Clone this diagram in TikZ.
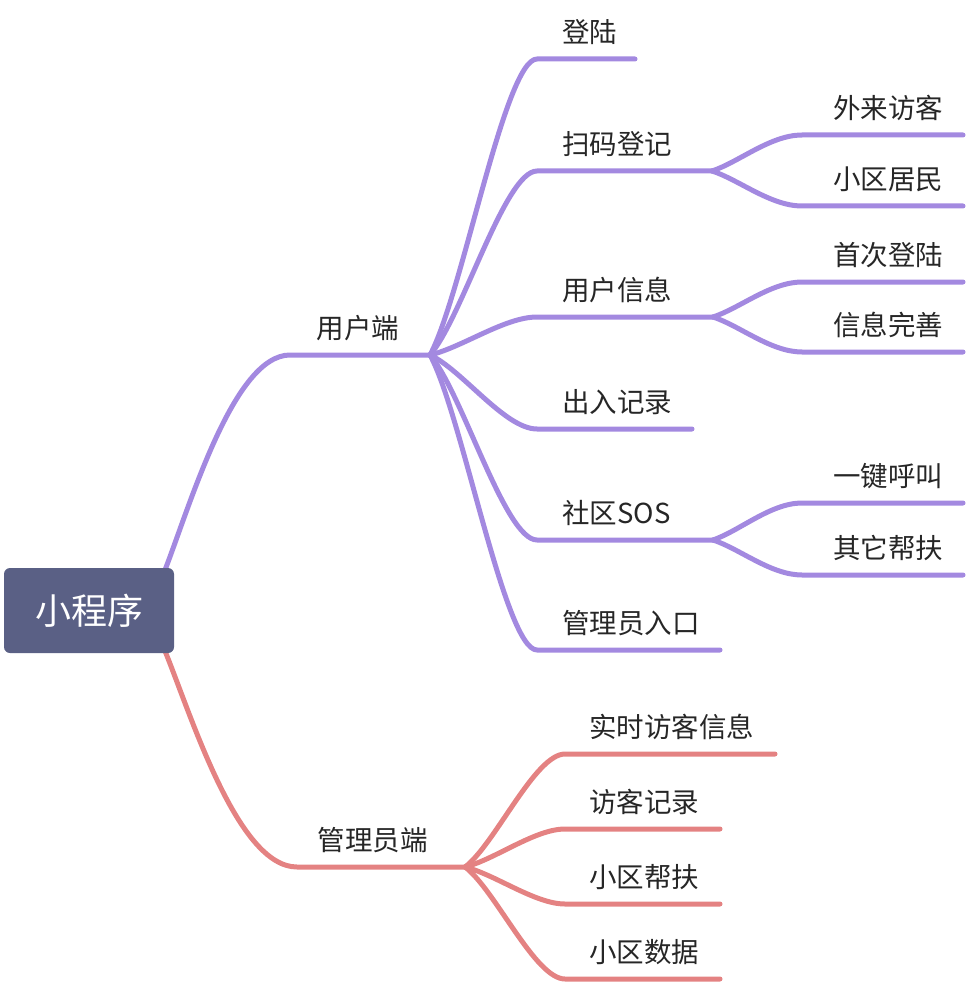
\documentclass[tikz,border=0pt]{standalone}
\usepackage{fontspec}
\newfontfamily\cjk{Noto Sans CJK SC}
\usetikzlibrary{calc}
\definecolor{purp}{RGB}{163,137,224}
\definecolor{redl}{RGB}{228,130,130}
\definecolor{rootfill}{RGB}{90,96,133}
\definecolor{txt}{RGB}{38,38,38}
\tikzset{
  mm/.style n args={3}{to path={let \p1=(\tikztostart), \p2=(\tikztotarget) in
     .. controls ({\x1+#1*(\x2-\x1)},{\y1+#2*(\y2-\y1)}) and ({\x1+#3*(\x2-\x1)},\y2) .. (\tikztotarget) \tikztonodes}},
  pline/.style={draw=purp, line width=5pt, line cap=round, line join=round},
  rline/.style={draw=redl, line width=5pt, line cap=round, line join=round},
  lbl/.style={anchor=west, inner sep=0pt, text=txt, font=\cjk\fontsize{27.5}{30}\selectfont},
  rootbox/.style={fill=rootfill, rounded corners=6pt, minimum width=170pt, minimum height=85pt, inner sep=0pt, text=white, font=\cjk\fontsize{36}{40}\selectfont},
}
\begin{document}
\begin{tikzpicture}[x=1pt,y=-1pt]
\useasboundingbox (0,0) rectangle (966,984);
% coordinates
\coordinate (R1) at (165,570);
\coordinate (R2) at (165,651);
\coordinate (uS) at (290,355);
\coordinate (uJ) at (430,355);
\coordinate (mS) at (297,867);
\coordinate (mJ) at (465,867);
% level 2 purple
\coordinate (dlS) at (537,59);   \coordinate (dlE) at (635,59);
\coordinate (smS) at (537,171);  \coordinate (smJ) at (712,171);
\coordinate (xxS) at (537,317);  \coordinate (xxJ) at (713,317);
\coordinate (crS) at (537,429);  \coordinate (crE) at (692,429);
\coordinate (sqS) at (537,540);  \coordinate (sqJ) at (713,540);
\coordinate (glS) at (537,650);  \coordinate (glE) at (720,650);
% level 3 purple
\coordinate (wlS) at (802,135);  \coordinate (wlE) at (963,135);
\coordinate (jmS) at (802,206);  \coordinate (jmE) at (963,206);
\coordinate (scS) at (802,282);  \coordinate (scE) at (963,282);
\coordinate (wsS) at (802,352);  \coordinate (wsE) at (963,352);
\coordinate (hjS) at (802,503);  \coordinate (hjE) at (963,503);
\coordinate (bfS) at (802,575);  \coordinate (bfE) at (963,575);
% level 2 red
\coordinate (ssS) at (565,754);  \coordinate (ssE) at (775,754);
\coordinate (fkS) at (565,829);  \coordinate (fkE) at (720,829);
\coordinate (bzS) at (565,904);  \coordinate (bzE) at (720,904);
\coordinate (sjS) at (565,979);  \coordinate (sjE) at (720,979);

% purple branch
\draw[pline] (R1) to[mm={0.2}{0.3}{0.55}] (uS) -- (uJ);
\draw[pline] (uJ) to[mm={0.3}{0.2}{0.7}] (dlS) -- (dlE);
\draw[pline] (uJ) to[mm={0.3}{0.2}{0.7}] (smS) -- (smJ);
\draw[pline] (uJ) to[mm={0.3}{0.2}{0.7}] (xxS) -- (xxJ);
\draw[pline] (uJ) to[mm={0.3}{0.2}{0.7}] (crS) -- (crE);
\draw[pline] (uJ) to[mm={0.3}{0.2}{0.7}] (sqS) -- (sqJ);
\draw[pline] (uJ) to[mm={0.3}{0.2}{0.7}] (glS) -- (glE);
\draw[pline] (smJ) to[mm={0.3}{0.25}{0.65}] (wlS) -- (wlE);
\draw[pline] (smJ) to[mm={0.3}{0.25}{0.65}] (jmS) -- (jmE);
\draw[pline] (xxJ) to[mm={0.3}{0.25}{0.65}] (scS) -- (scE);
\draw[pline] (xxJ) to[mm={0.3}{0.25}{0.65}] (wsS) -- (wsE);
\draw[pline] (sqJ) to[mm={0.3}{0.25}{0.65}] (hjS) -- (hjE);
\draw[pline] (sqJ) to[mm={0.3}{0.25}{0.65}] (bfS) -- (bfE);
% red branch
\draw[rline] (R2) to[mm={0.2}{0.3}{0.55}] (mS) -- (mJ);
\draw[rline] (mJ) to[mm={0.3}{0.2}{0.7}] (ssS) -- (ssE);
\draw[rline] (mJ) to[mm={0.3}{0.2}{0.7}] (fkS) -- (fkE);
\draw[rline] (mJ) to[mm={0.3}{0.2}{0.7}] (bzS) -- (bzE);
\draw[rline] (mJ) to[mm={0.3}{0.2}{0.7}] (sjS) -- (sjE);

% root
\node[rootbox] (root) at (89,610.5) {小程序};

% labels
\node[lbl] (user) at (316.5,328) {用户端};
\node[lbl] (admin) at (317.5,840) {管理员端};

\node[lbl] (dl) at (562,32) {登陆};
\node[lbl] (sm) at (562,144) {扫码登记};
\node[lbl] (xx) at (562,290) {用户信息};
\node[lbl] (cr) at (562,402) {出入记录};
\node[lbl] (sq) at (562,513) {社区SOS};
\node[lbl] (gl) at (562,623) {管理员入口};

\node[lbl] (wl) at (833,108) {外来访客};
\node[lbl] (jm) at (833,179) {小区居民};
\node[lbl] (sc) at (833,255) {首次登陆};
\node[lbl] (ws) at (833,325) {信息完善};
\node[lbl] (hj) at (833,476) {一键呼叫};
\node[lbl] (bf) at (833,548) {其它帮扶};

\node[lbl] (ss) at (589,727) {实时访客信息};
\node[lbl] (fk) at (589,802) {访客记录};
\node[lbl] (bz) at (589,877) {小区帮扶};
\node[lbl] (sj) at (589,952) {小区数据};
\end{tikzpicture}
\end{document}
